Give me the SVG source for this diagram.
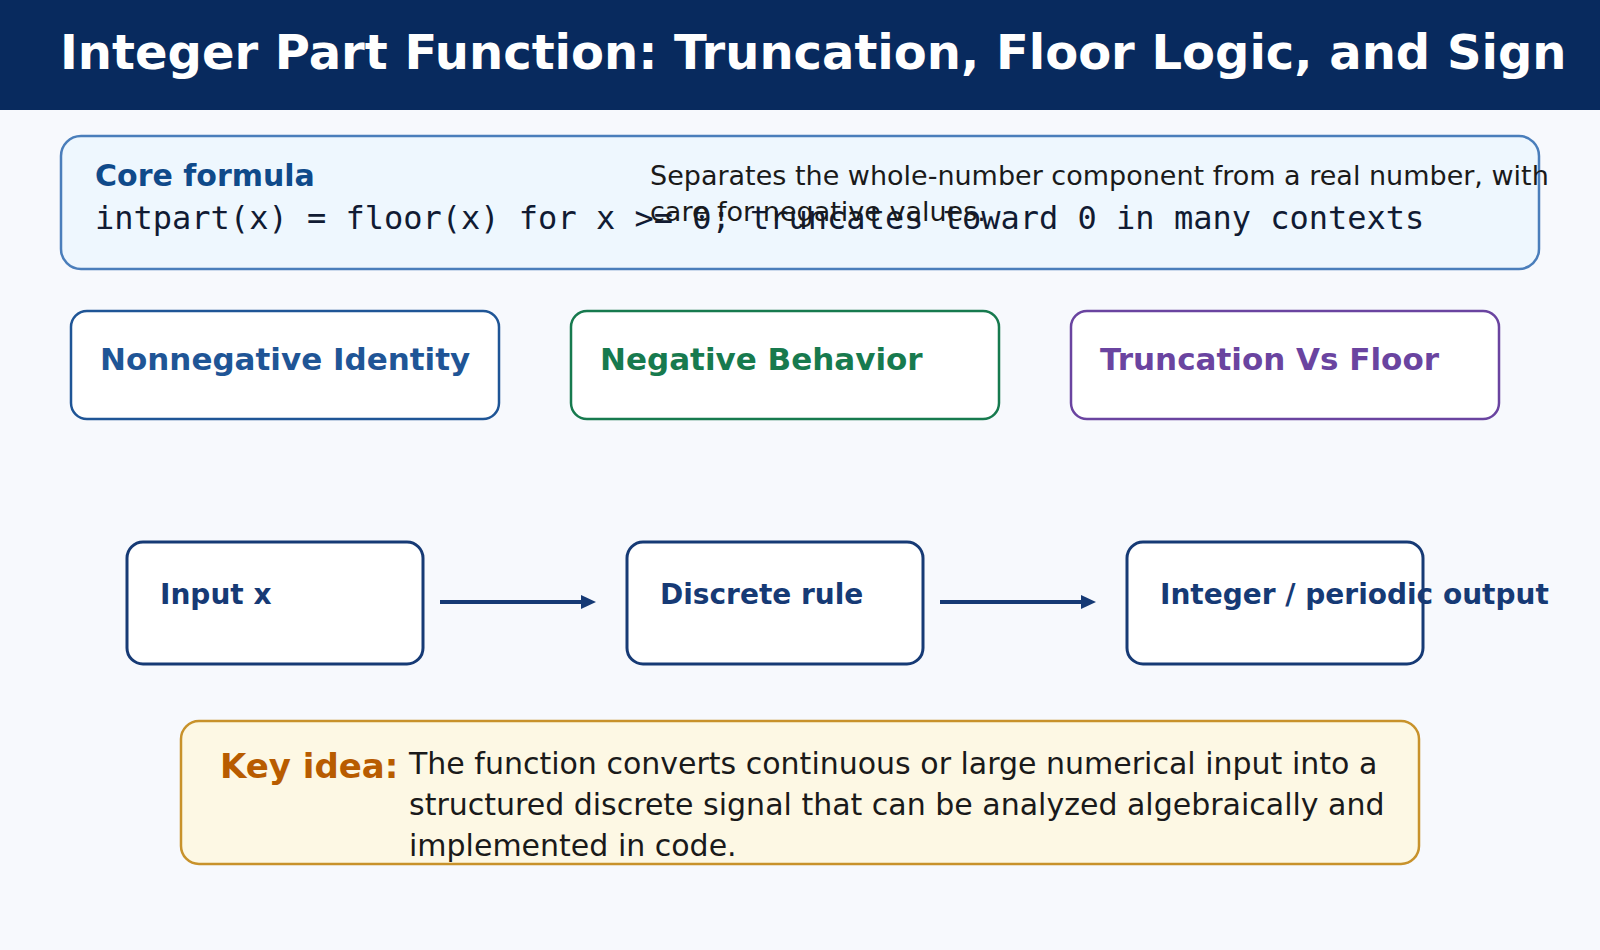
<svg xmlns="http://www.w3.org/2000/svg" width="1600" height="950" viewBox="0 0 1600 950">
<defs>
<style>
text{font-family:"DejaVu Sans",sans-serif}
.b{font-weight:bold}
.flow{fill:#fff;stroke:#163a75;stroke-width:3}
.fl{font-size:28px;font-weight:bold;fill:#163a75}
.cat{fill:#fff;stroke-width:2.5}
.cl{font-size:31px;font-weight:bold}
.conn{stroke:#163a75;stroke-width:4;fill:none}
</style>
</defs>
<rect width="1600" height="950" fill="#f7f9fd"/>
<g id="header"><rect width="1600" height="110" fill="#082a5e"/>
<text x="60" y="69" class="b" font-size="48" fill="#fff">Integer Part Function: Truncation, Floor Logic, and Sign</text></g>
<g id="core"><rect x="61" y="136" width="1478" height="133" rx="20" fill="#eef7fe" stroke="#4a7ebb" stroke-width="2.5"/>
<text x="95" y="186" class="b" font-size="30" fill="#0f4a8a">Core formula</text>
<text x="95" y="229" font-size="32" fill="#111b33" style="font-family:'DejaVu Sans Mono',monospace">intpart(x) = floor(x) for x &gt;= 0; truncates toward 0 in many contexts</text>
<text x="650" y="185" font-size="27" fill="#1a1a1a">Separates the whole-number component from a real number, with</text>
<text x="650" y="221" font-size="27" fill="#1a1a1a">care for negative values.</text></g>
<g id="nonneg"><rect x="71" y="311" width="428" height="108" rx="16" class="cat" stroke="#1f5596"/><text x="100" y="370" class="cl" fill="#1f5596">Nonnegative Identity</text></g>
<g id="neg"><rect x="571" y="311" width="428" height="108" rx="16" class="cat" stroke="#177a4e"/><text x="600" y="370" class="cl" fill="#177a4e">Negative Behavior</text></g>
<g id="trunc"><rect x="1071" y="311" width="428" height="108" rx="16" class="cat" stroke="#6a44a0"/><text x="1100" y="370" class="cl" fill="#6a44a0">Truncation Vs Floor</text></g>
<g id="input"><rect x="127" y="542" width="296" height="122" rx="16" class="flow"/><text x="160" y="604" class="fl">Input x</text></g>
<g id="rule"><rect x="627" y="542" width="296" height="122" rx="16" class="flow"/><text x="660" y="604" class="fl">Discrete rule</text></g>
<g id="output"><rect x="1127" y="542" width="296" height="122" rx="16" class="flow"/><text x="1160" y="604" class="fl">Integer / periodic output</text></g>
<g id="connectors">
<line x1="440" y1="602" x2="582" y2="602" class="conn"/><path d="M581,595 L596,602 L581,609 Z" fill="#163a75"/>
<line x1="940" y1="602" x2="1082" y2="602" class="conn"/><path d="M1081,595 L1096,602 L1081,609 Z" fill="#163a75"/>
</g>
<g id="key"><rect x="181" y="721" width="1238" height="143" rx="18" fill="#fdf8e4" stroke="#c8922b" stroke-width="2.5"/>
<text x="220" y="778" class="b" font-size="34" fill="#b85c00">Key idea:</text>
<text font-size="30" fill="#1a1a1a"><tspan x="409" y="774">The function converts continuous or large numerical input into a</tspan><tspan x="409" y="815">structured discrete signal that can be analyzed algebraically and</tspan><tspan x="409" y="856">implemented in code.</tspan></text></g>
</svg>
